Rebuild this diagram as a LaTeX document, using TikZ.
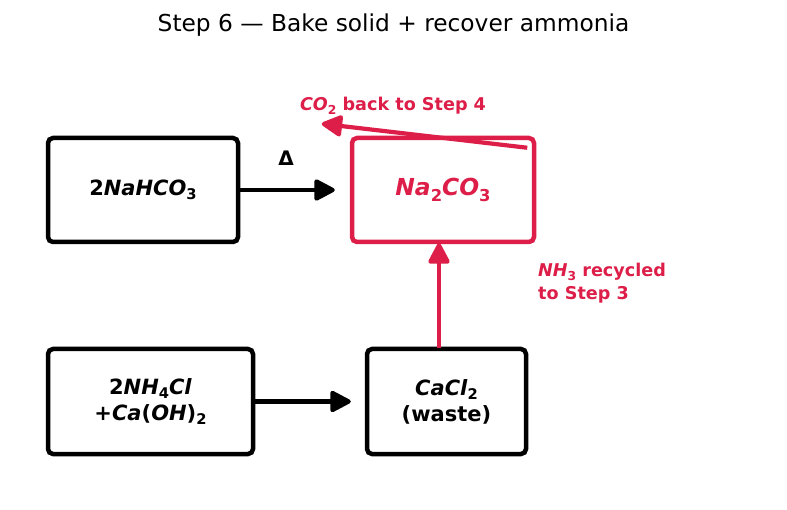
\documentclass[tikz,border=0pt]{standalone}
\usepackage{fontspec}
\setmainfont{DejaVu Sans}
\usetikzlibrary{arrows.meta}
\definecolor{accent}{RGB}{220,30,72}
\newcommand{\chsub}[1]{\raisebox{-0.22em}{\scalebox{0.7}{#1}}}
\newcommand{\chit}[1]{\textbf{\textit{#1}}}
\begin{document}
\begin{tikzpicture}[x=1pt,y=-1pt,
  box/.style={draw=black,line width=4.5pt,rounded corners=5pt,inner sep=0pt,align=center,font=\fontsize{21}{26}\selectfont\bfseries},
  flow/.style={line width=4.2pt,line join=round,-{Triangle[length=23pt,width=23pt,round]}},
  note/.style={text=accent,font=\fontsize{17.6}{23}\selectfont\bfseries,inner sep=0pt}]
\useasboundingbox (0,0) rectangle (787,510);
\node[font=\fontsize{23.3}{26}\selectfont] (title) at (393.5,25) {Step 6 — Bake solid + recover ammonia};
\node[box,minimum width=190pt,minimum height=104pt] (b1) at (143,190) {2\chit{NaHCO}\chsub{3}};
\node[box,draw=accent,text=accent,minimum width=182pt,minimum height=104pt,font=\fontsize{23.4}{26}\selectfont\bfseries] (b2) at (443,190) {\chit{Na}\chsub{2}\chit{CO}\chsub{3}};
\node[box,minimum width=205pt,minimum height=105pt] (b3) at (150.5,401.5) {2\chit{NH}\chsub{4}\chit{Cl}\\+\chit{Ca}(\chit{OH})\chsub{2}};
\node[box,minimum width=159pt,minimum height=105pt] (b4) at (446.5,401.5) {\chit{CaCl}\chsub{2}\\(waste)};
\draw[flow] ([xshift=-3pt]b1.east) -- ([xshift=-15pt]b2.west) node[midway,above=22pt,font=\fontsize{20}{24}\selectfont\bfseries,inner sep=0pt] (delta) {Δ};
\draw[flow] ([xshift=-3pt]b3.east) -- ([xshift=-14pt]b4.west);
\draw[flow,accent] ([xshift=-7.5pt,yshift=-1pt]b4.north) -- ([xshift=-4pt,yshift=1pt]b2.south);
\coordinate (co2start) at ([xshift=-9pt,yshift=-12pt]b2.north east);
\coordinate (co2end) at ([xshift=-28pt,yshift=12pt]b2.north west);
\draw[flow,accent] (co2start) -- (co2end);
\node[note] (co2lbl) at (393,106) {\chit{CO}\chsub{2} back to Step 4};
\node[note,anchor=west,align=left] (nh3lbl) at (538,283) {\chit{NH}\chsub{3} recycled\\to Step 3};
\end{tikzpicture}
\end{document}
